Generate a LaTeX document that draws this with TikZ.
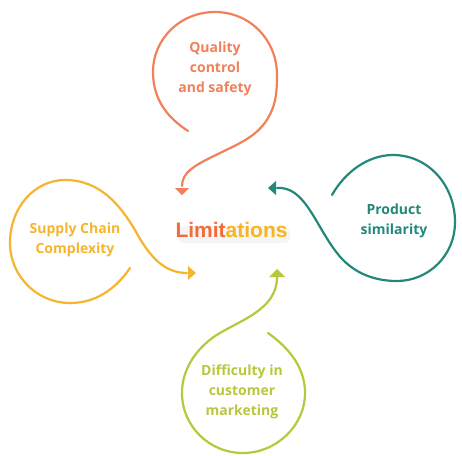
\documentclass[tikz,border=0pt]{standalone}
\usepackage{fontspec}
\setmainfont{Open Sans}
\newfontfamily\limfont{Liberation Sans}
\definecolor{corange}{HTML}{F2805A}
\definecolor{cyellow}{HTML}{F6B52F}
\definecolor{cteal}{HTML}{22897A}
\definecolor{clime}{HTML}{B8C83C}
\definecolor{climo}{HTML}{F26B3A}
\definecolor{climy}{HTML}{F9B41E}
\tikzset{
  loopline/.style={line width=2.2pt, line cap=round},
  lbl/.style={align=center, font=\fontsize{14}{20}\selectfont\bfseries, inner sep=0pt},
  tip/.style={fill=#1, draw=none},
}
\begin{document}
\begin{tikzpicture}[x=1pt,y=-1pt]
\useasboundingbox (0,0) rectangle (462,455);
\fill[white] (0,0) rectangle (462,455);
% soft shadow behind the title
\fill[black, opacity=0.04, rounded corners=6pt] (178,226) rectangle (290,243);
% Quality loop (orange)
\draw[loopline, corange] (188,131) .. controls (168,118) and (153,100) .. (153,72)
  .. controls (153,39) and (180,12) .. (215,12)
  .. controls (250,12) and (277,40) .. (277,75)
  .. controls (277,90) and (276,100) .. (272,110)
  .. controls (262,135) and (240,143) .. (220,153)
  .. controls (195,165) and (182,172) .. (182,186);
\fill[tip=corange] (175,188) -- (189,188) -- (182,195) -- cycle;
\node[lbl, text=corange] (qual) at (215,69) {Quality\\control\\and safety};
% Supply chain loop (yellow)
\draw[loopline, cyellow] (130,268) .. controls (115,290) and (95,303) .. (70,303)
  .. controls (37,303) and (10,276) .. (10,243)
  .. controls (10,207) and (35,180) .. (65,180)
  .. controls (100,180) and (120,205) .. (135,230)
  .. controls (150,258) and (165,273) .. (187,273);
\fill[tip=cyellow] (188,266) -- (188,280) -- (196,273) -- cycle;
\node[lbl, text=cyellow] (supp) at (75,240) {Supply Chain\\Complexity};
% Product similarity loop (teal)
\draw[loopline, cteal] (332,195) .. controls (345,172) and (368,155) .. (393,155)
  .. controls (428,155) and (455,185) .. (455,222)
  .. controls (455,256) and (428,281) .. (397,281)
  .. controls (370,281) and (350,270) .. (337,253)
  .. controls (315,225) and (305,186) .. (277,188);
\fill[tip=cteal] (268,188) -- (276,181) -- (276,195) -- cycle;
\node[lbl, text=cteal] (prod) at (394,221) {Product\\similarity};
% Difficulty loop (lime)
\draw[loopline, clime] (268,333) .. controls (292,350) and (305,370) .. (305,393)
  .. controls (305,426) and (276,453) .. (243,453)
  .. controls (209,453) and (182,426) .. (182,393)
  .. controls (182,370) and (195,350) .. (215,336)
  .. controls (240,320) and (277,310) .. (277,277);
\fill[tip=clime] (277,269) -- (285,277) -- (269,277) -- cycle;
\node[lbl, text=clime] (diff) at (242,392) {Difficulty in\\customer\\marketing};
% Centre title
\node[font=\limfont\fontsize{21}{24}\selectfont\bfseries, inner sep=0pt] (lim) at (231.5,230) {\textcolor{climo}{Limit}\textcolor{climy}{ations}};
\end{tikzpicture}
\end{document}
